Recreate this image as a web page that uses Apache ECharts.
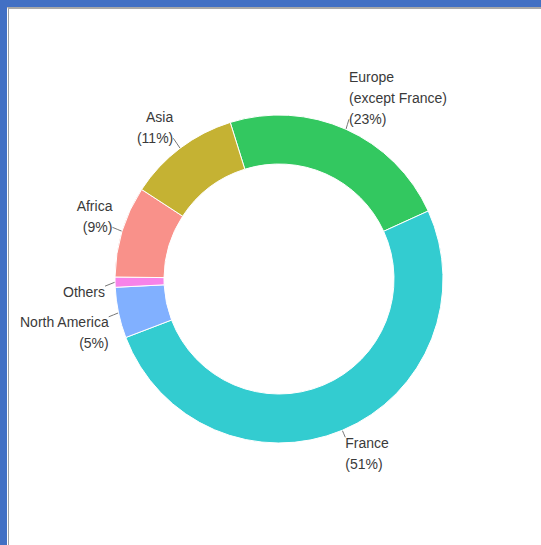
<!DOCTYPE html>
<html>
<head>
<meta charset="utf-8">
<script src="https://cdn.jsdelivr.net/npm/echarts@6/dist/echarts.min.js"></script>
<style>
  html, body { margin: 0; padding: 0; width: 541px; height: 545px; overflow: hidden; background: #4270c4; }
  #panel { position: absolute; left: 7px; top: 7px; right: 0; bottom: 0; background: #fff;
           border-top: 2px solid #a8a8a8; border-left: 1px solid #fff; }
  #panel::before { content: ''; position: absolute; left: 0; top: 0; bottom: 0; width: 1px; background: #a0a0a0; }
  #chart { position: absolute; left: 0; top: 0; width: 541px; height: 545px; }
</style>
</head>
<body>
<div id="panel"></div>
<div id="chart"></div>
<script>
// slices in drawing order (clockwise)
const regions = ['Europe (except France)', 'France', 'North America', 'Others', 'Africa', 'Asia'];
const labelNames = ['Europe\n(except France)', 'France', 'North America', 'Others', 'Africa', 'Asia'];
const shares = [23, 51, 5, 1, 9, 11];
const showPct = [true, true, true, false, true, true];
const colors = ['#33c860', '#33ccd0', '#81b0ff', '#f783e9', '#f9918a', '#c5b233'];

const CX = 279, CY = 279;

const chart = echarts.init(document.getElementById('chart'), null, { renderer: 'svg' });

const data = regions.map(function (name, i) {
    return { name: name, value: shares[i], itemStyle: { color: colors[i] } };
});

chart.setOption({
    backgroundColor: 'transparent',
    animation: false,
    series: [
        {
            type: 'pie',
            center: [CX, CY],
            radius: [115, 164],
            startAngle: 107.3,
            clockwise: true,
            avoidLabelOverlap: false,
            minShowLabelAngle: 0,
            itemStyle: {
                borderColor: '#ffffff',
                borderWidth: 1,
            },
            label: {
                show: true,
                position: 'outside',
                color: '#3a3a3a',
                fontFamily: 'Liberation Sans, Arial, sans-serif',
                fontSize: 14,
                lineHeight: 21,
                formatter: function (p) {
                    const t = labelNames[p.dataIndex];
                    return showPct[p.dataIndex] ? t + '\n(' + Math.round(p.percent) + '%)' : t;
                },
            },
            labelLine: {
                show: true,
                length: 6,
                length2: 0,
                lineStyle: { color: '#777', width: 1 },
            },
            // plotly-like placement: label corner sits next to the slice's outer mid point
            labelLayout: function (p) {
                const pts = p.labelLinePoints;
                if (!pts) return {};
                const ox = pts[0][0], oy = pts[0][1];
                const right = ox > CX;
                const top = oy < CY;
                const r = Math.sqrt((ox - CX) * (ox - CX) + (oy - CY) * (oy - CY));
                const s = Math.abs(ox - CX) / r, c = Math.abs(oy - CY) / r;
                const x = right ? ox + 3 : ox - (2 + 8 * s);
                let y = oy;
                if (top && c < 0.4) y += 6;
                if (!top) y += (c > 0.5 ? 2 : -1);
                const ey = top ? y - 10 : y + 5;
                return {
                    x: x,
                    y: y,
                    align: right ? 'left' : 'right',
                    verticalAlign: top ? 'bottom' : 'top',
                    labelLinePoints: [[ox, oy], [(ox + x) / 2, (oy + ey) / 2], [x, ey]],
                };
            },
            emphasis: { disabled: true },
            data: data,
        },
    ],
});
</script>
</body>
</html>
